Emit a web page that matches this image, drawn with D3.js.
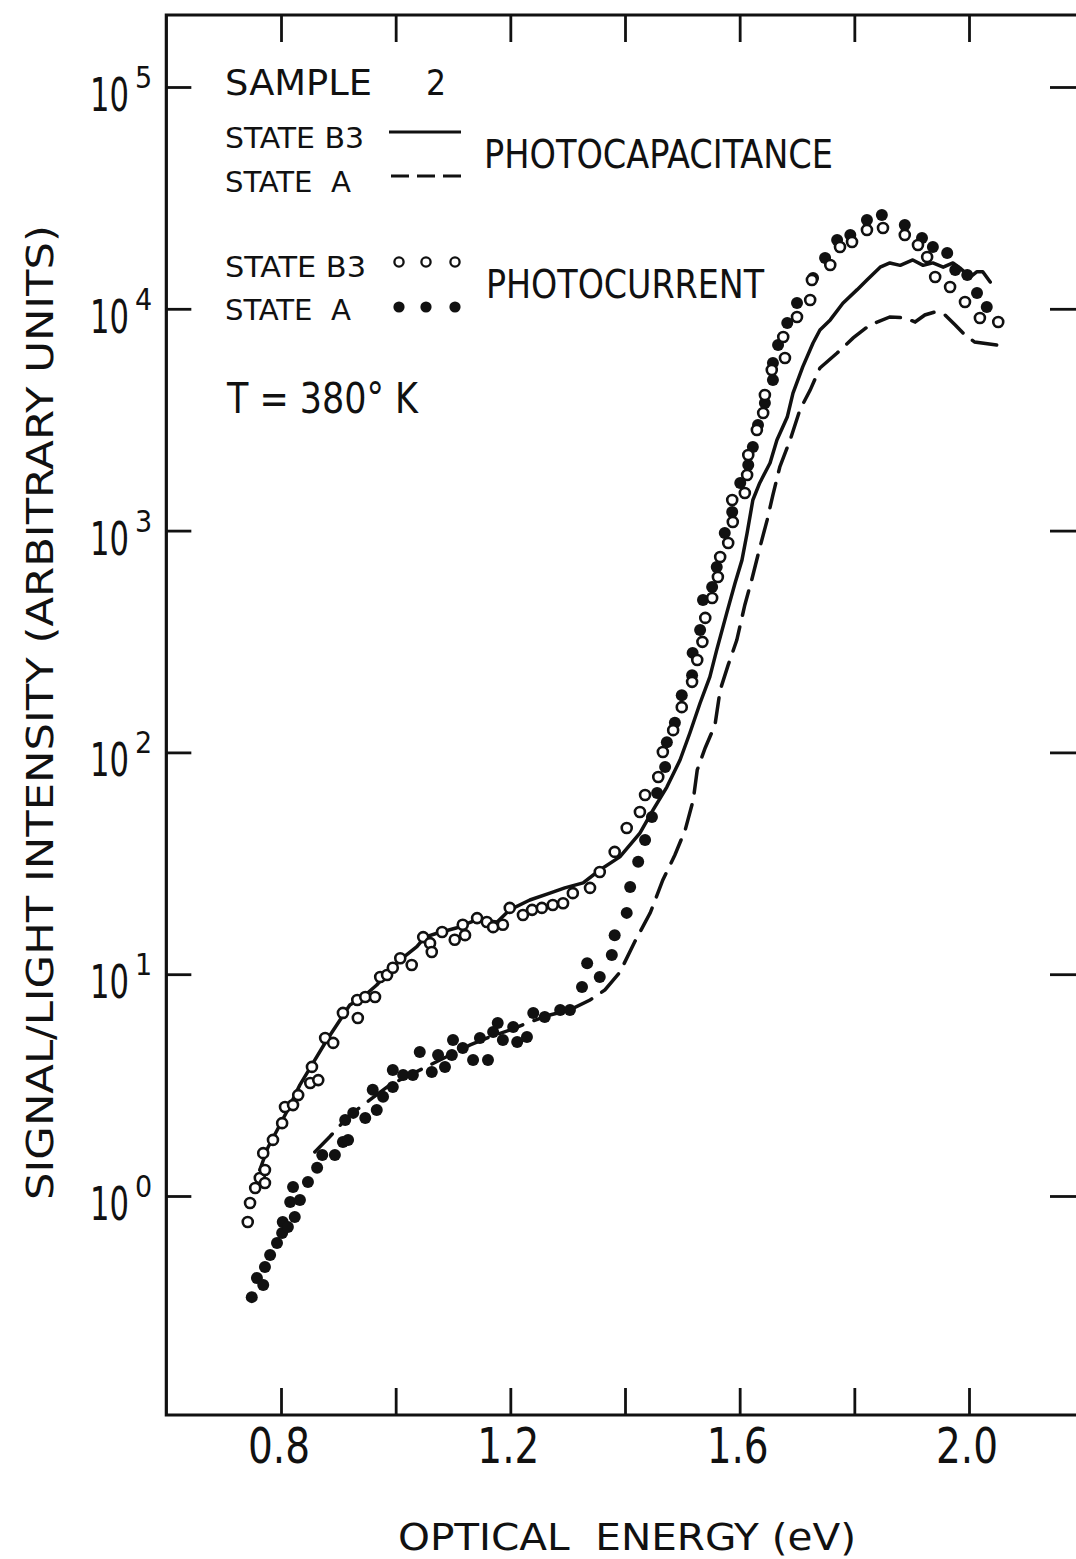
<!DOCTYPE html>
<html>
<head>
<meta charset="utf-8">
<script src="https://cdn.jsdelivr.net/npm/d3@7"></script>
<style>
  html, body { margin: 0; padding: 0; background: #ffffff; }
  svg { display: block; }
  text { font-family: "Liberation Sans Narrow", "DejaVu Sans Condensed", "Liberation Sans", sans-serif; fill: #111; }
</style>
</head>
<body>
<svg id="chart" width="1076" height="1559"></svg>
<script>
// ---------------- data (optical energy in eV, signal/light intensity) ----------------
const energyTicks = [0.8, 1.0, 1.2, 1.4, 1.6, 1.8, 2.0];
const energyLabels = [0.8, 1.2, 1.6, 2.0];
const energyLabelText = ["0.8", "1.2", "1.6", "2.0"];
const decadeTicks = [1, 10, 100, 1000, 10000, 100000];
const decadeExponents = ["0", "1", "2", "3", "4", "5"];

// photocapacitance, state B3 (solid line)
const capStateB3 = [
  [0.763,1.31],[0.777,1.65],[0.798,2.09],[0.816,2.57],[0.833,3.17],[0.856,3.98],[0.880,5.05],
  [0.903,6.22],[0.920,7.26],[0.943,7.89],[0.967,8.94],[0.985,10.1],[1.008,11.6],[1.037,13.3],
  [1.051,14.7],[1.072,15.3],[1.107,16.2],[1.142,17.6],[1.177,17.2],[1.199,19.5],[1.234,21.6],
  [1.269,23.2],[1.295,24.5],[1.327,25.8],[1.356,29.5],[1.391,33.8],[1.426,43.3],[1.449,55.0],
  [1.473,69.8],[1.496,92.4],[1.513,122],[1.531,167],[1.548,219],[1.560,290],[1.578,430],
  [1.592,580],[1.604,736],[1.613,975],[1.623,1374],[1.635,1640],[1.653,2018],[1.665,2560],
  [1.683,3250],[1.693,4170],[1.710,5470],[1.728,7010],[1.740,8020],[1.758,8910],[1.780,10600],
  [1.805,12200],[1.822,13500],[1.845,15400],[1.862,16100],[1.880,15700],[1.902,16600],
  [1.920,15700],[1.937,16100],[1.955,15400],[1.972,16100],[1.984,15300],[2.002,13900],
  [2.014,14700],[2.024,14700],[2.037,13200]
];

// photocapacitance, state A (dashed line)
const capStateA = [
  [0.859,1.58],[0.885,1.85],[0.920,2.32],[0.955,2.71],[0.990,3.17],[1.025,3.51],[1.060,3.90],
  [1.095,4.32],[1.130,4.80],[1.164,5.21],[1.199,5.60],[1.234,6.09],[1.269,6.55],[1.304,6.90],
  [1.339,7.65],[1.365,8.49],[1.391,10.2],[1.417,14.0],[1.444,18.9],[1.466,26.6],[1.487,34.5],
  [1.505,44.7],[1.519,61.0],[1.526,83.3],[1.540,105],[1.557,133],[1.566,191],[1.580,248],
  [1.595,321],[1.609,462],[1.621,599],[1.635,835],[1.648,1117],[1.658,1448],[1.670,1936],
  [1.688,2560],[1.705,3500],[1.723,4300],[1.740,5410],[1.770,6320],[1.798,7390],[1.827,8450],
  [1.862,9190],[1.888,9100],[1.906,8720],[1.923,9380],[1.941,9680],[1.958,9380],[1.976,8450],
  [1.993,7620],[2.010,7080],[2.049,6870]
];

// photocurrent, state B3 (open circles)
const curStateB3 = [
  [0.742,0.763],[0.746,0.930],[0.755,1.087],[0.763,1.206],[0.772,1.144],[0.772,1.31],[0.769,1.56],
  [0.786,1.79],[0.802,2.13],[0.807,2.52],[0.821,2.57],[0.830,2.85],[0.851,3.23],[0.865,3.33],
  [0.854,3.82],[0.877,5.16],[0.891,4.90],[0.908,6.69],[0.934,6.35],[0.933,7.65],[0.947,7.89],
  [0.964,7.89],[0.973,9.71],[0.985,9.92],[0.995,10.7],[1.008,11.8],[1.028,11.0],[1.048,14.7],
  [1.060,13.8],[1.063,12.6],[1.081,15.5],[1.103,14.3],[1.117,16.7],[1.121,15.0],[1.142,17.9],
  [1.159,17.2],[1.170,16.3],[1.187,16.7],[1.199,19.9],[1.222,18.5],[1.238,19.5],[1.255,19.9],
  [1.274,20.5],[1.292,20.9],[1.309,23.2],[1.339,24.5],[1.356,28.9],[1.382,35.6],[1.403,45.6],
  [1.426,53.9],[1.435,64.3],[1.458,77.5],[1.466,100.4],[1.484,126],[1.499,160],[1.517,208],
  [1.526,261],[1.535,315],[1.540,404],[1.552,497],[1.562,618],[1.566,760],[1.580,879],
  [1.588,1094],[1.587,1374],[1.609,1477],[1.613,1781],[1.615,2192],[1.630,2842],[1.641,3390],
  [1.644,4087],[1.656,5298],[1.679,6002],[1.676,7463],[1.700,9185],[1.723,10960],[1.726,13490],
  [1.758,15760],[1.775,19000],[1.796,20010],[1.822,22660],[1.850,23140],[1.888,21520],
  [1.911,19400],[1.927,17130],[1.941,13910],[1.967,12540],[1.993,10730],[2.019,9090],[2.051,8720]
];

// photocurrent, state A (filled circles)
const curStateA = [
  [0.749,0.350],[0.758,0.427],[0.769,0.397],[0.772,0.479],[0.781,0.542],[0.793,0.614],[0.802,0.681],
  [0.803,0.763],[0.812,0.725],[0.816,0.940],[0.824,0.804],[0.821,1.098],[0.833,0.959],[0.847,1.157],
  [0.863,1.34],[0.872,1.53],[0.894,1.53],[0.908,1.75],[0.917,1.79],[0.912,2.20],[0.926,2.37],
  [0.947,2.25],[0.967,2.44],[0.960,3.01],[0.978,2.80],[0.995,3.10],[0.995,3.70],[1.013,3.51],
  [1.030,3.51],[1.042,4.46],[1.063,3.62],[1.074,4.32],[1.086,3.82],[1.100,5.05],[1.098,4.32],
  [1.117,4.65],[1.135,4.10],[1.161,4.10],[1.147,5.16],[1.170,5.49],[1.178,6.03],[1.187,5.05],
  [1.205,5.78],[1.212,4.95],[1.229,5.21],[1.240,6.69],[1.260,6.41],[1.287,6.90],[1.304,6.90],
  [1.325,8.76],[1.334,11.2],[1.356,9.71],[1.377,12.2],[1.382,15.0],[1.403,18.9],[1.409,24.7],
  [1.423,32.1],[1.435,40.3],[1.447,51.1],[1.456,65.6],[1.470,86.0],[1.473,111],[1.487,136],
  [1.499,181],[1.517,223],[1.518,281],[1.531,356],[1.536,487],[1.552,557],[1.560,685],
  [1.574,975],[1.587,1213],[1.601,1639],[1.615,1976],[1.623,2382],[1.632,2993],[1.644,3761],
  [1.658,4775],[1.658,5697],[1.667,6868],[1.683,8630],[1.700,10620],[1.728,13770],[1.749,16950],
  [1.770,20430],[1.793,21520],[1.822,25140],[1.848,26480],[1.888,23870],[1.918,20860],
  [1.937,19000],[1.962,17850],[1.976,14960],[1.997,14210],[2.014,11780],[2.031,10190]
];

// ---------------- chart ----------------
const svg = d3.select("#chart");
svg.append("rect").attr("width", 1076).attr("height", 1559).attr("fill", "#ffffff");

const x = d3.scaleLinear().domain([0.8, 2.0]).range([281, 969]);
const y = d3.scaleLog().domain([1, 1e5]).range([1196, 87]);

const frameLeft = x(0.6), frameRight = x(2.2), frameTop = 15, frameBottom = 1415;
const ink = "#111";

// frame
svg.append("path")
  .attr("d", `M${frameRight},${frameTop}H${frameLeft}V${frameBottom}H${frameRight}`)
  .attr("fill", "none").attr("stroke", ink).attr("stroke-width", 3.2);

function styleAxis(g) {
  g.select(".domain").remove();
  g.selectAll(".tick line").attr("stroke", ink).attr("stroke-width", 2.8);
  g.selectAll(".tick text").remove();
}
svg.append("g").attr("transform", `translate(0,${frameBottom})`)
  .call(d3.axisBottom(x).tickValues(energyTicks).tickSize(-27)).call(styleAxis);
svg.append("g").attr("transform", `translate(0,${frameTop})`)
  .call(d3.axisTop(x).tickValues(energyTicks).tickSize(-27)).call(styleAxis);
svg.append("g").attr("transform", `translate(${frameLeft},0)`)
  .call(d3.axisLeft(y).tickValues(decadeTicks).tickSize(-25)).call(styleAxis);
svg.append("g").attr("transform", `translate(1077,0)`)
  .call(d3.axisRight(y).tickValues(decadeTicks).tickSize(-27)).call(styleAxis);

// x tick labels
svg.append("g").selectAll("text").data(energyLabels).join("text")
  .attr("x", d => x(d) - 2).attr("y", 1463)
  .attr("text-anchor", "middle").attr("font-size", 50)
  .attr("textLength", 62).attr("lengthAdjust", "spacingAndGlyphs")
  .text((d, i) => energyLabelText[i]);

// y tick labels: "10" base (horizontally condensed) and superscript exponent
const ylab = svg.append("g");
ylab.selectAll("text.base").data(decadeTicks).join("text").attr("class", "base")
  .attr("transform", d => `translate(129,${y(d) + 24}) scale(0.74,1)`)
  .attr("text-anchor", "end").attr("font-size", 46)
  .text("10");
ylab.selectAll("text.exp").data(decadeTicks).join("text").attr("class", "exp")
  .attr("x", 135).attr("y", d => y(d) + 1)
  .attr("font-size", 30)
  .text((d, i) => decadeExponents[i]);

// axis titles
svg.append("text")
  .attr("transform", `translate(53,${(225 + 1200) / 2}) rotate(-90)`)
  .attr("text-anchor", "middle").attr("font-size", 38)
  .attr("textLength", 975).attr("lengthAdjust", "spacingAndGlyphs")
  .text("SIGNAL/LIGHT INTENSITY (ARBITRARY UNITS)");
svg.append("text")
  .attr("x", 398).attr("y", 1550).attr("font-size", 38)
  .attr("textLength", 458).attr("lengthAdjust", "spacingAndGlyphs")
  .style("white-space", "pre")
  .text("OPTICAL  ENERGY (eV)");

// series
const line = d3.line().x(d => x(d[0])).y(d => y(d[1]));
svg.append("path").datum(capStateB3).attr("d", line)
  .attr("fill", "none").attr("stroke", ink).attr("stroke-width", 3.5)
  .attr("stroke-linejoin", "round").attr("stroke-linecap", "round");
svg.append("path").datum(capStateA).attr("d", line)
  .attr("fill", "none").attr("stroke", ink).attr("stroke-width", 3.5)
  .attr("stroke-dasharray", "25,12").attr("stroke-linecap", "round");

svg.append("g").selectAll("circle").data(curStateA).join("circle")
  .attr("cx", d => x(d[0])).attr("cy", d => y(d[1])).attr("r", 6)
  .attr("fill", ink);
svg.append("g").selectAll("circle").data(curStateB3).join("circle")
  .attr("cx", d => x(d[0])).attr("cy", d => y(d[1])).attr("r", 5)
  .attr("fill", "#ffffff").attr("stroke", ink).attr("stroke-width", 2.6);

// legend
const lg = svg.append("g");
function ltext(tx, ty, size, len, s) {
  lg.append("text").attr("x", tx).attr("y", ty).attr("font-size", size)
    .attr("textLength", len).attr("lengthAdjust", "spacingAndGlyphs")
    .style("white-space", "pre").text(s);
}
ltext(225, 95, 35, 147, "SAMPLE");
lg.append("text").attr("x", 426).attr("y", 95).attr("font-size", 35).text("2");
ltext(225, 148, 29, 139, "STATE B3");
ltext(225, 192, 29, 126, "STATE  A");
ltext(484, 168, 39, 349, "PHOTOCAPACITANCE");
ltext(225, 277, 29, 141, "STATE B3");
ltext(225, 320, 29, 126, "STATE  A");
ltext(486, 298, 39, 278, "PHOTOCURRENT");
ltext(227, 413, 43, 191, "T = 380° K");

lg.append("line").attr("x1", 389).attr("x2", 461).attr("y1", 132).attr("y2", 132)
  .attr("stroke", ink).attr("stroke-width", 3);
lg.append("line").attr("x1", 391).attr("x2", 461).attr("y1", 176).attr("y2", 176)
  .attr("stroke", ink).attr("stroke-width", 3).attr("stroke-dasharray", "18,8");
[399, 426, 455].forEach(cx => {
  lg.append("circle").attr("cx", cx).attr("cy", 262).attr("r", 4.6)
    .attr("fill", "#fff").attr("stroke", ink).attr("stroke-width", 2.3);
  lg.append("circle").attr("cx", cx).attr("cy", 307).attr("r", 5.6).attr("fill", ink);
});
</script>
</body>
</html>
